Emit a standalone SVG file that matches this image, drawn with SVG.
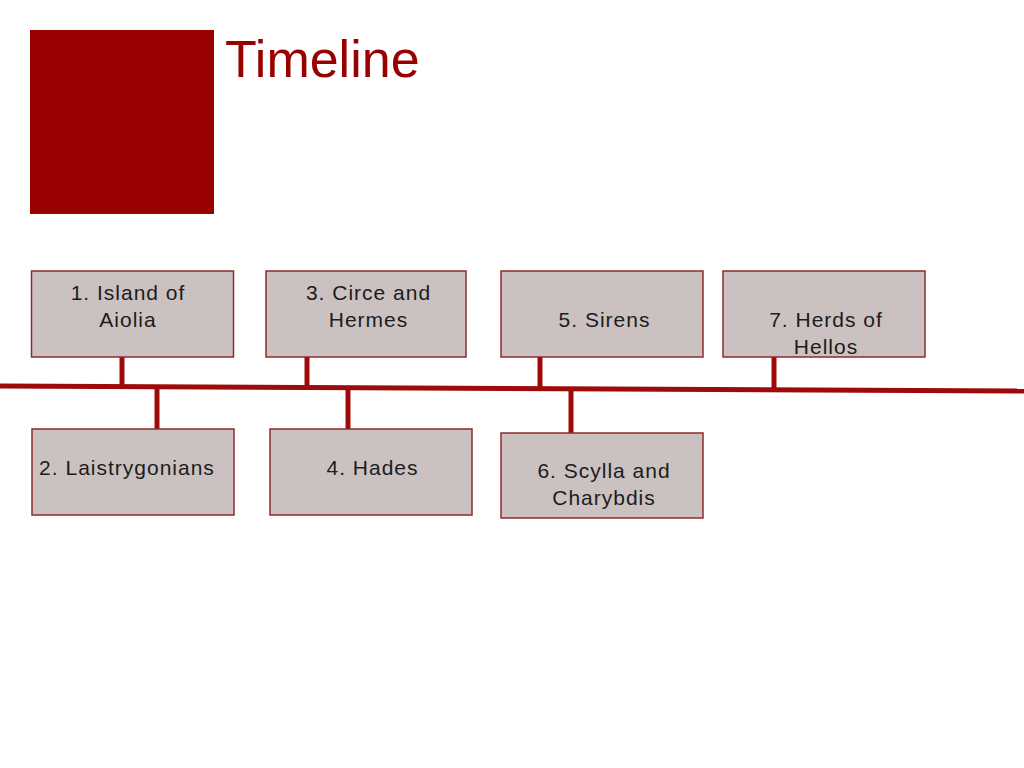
<svg xmlns="http://www.w3.org/2000/svg" width="1024" height="768" viewBox="0 0 1024 768">
<style>
.box{fill:#cbc1c1;stroke:#8e2b2b;stroke-width:1.5}
.lbl{font-family:"Liberation Sans","DejaVu Sans",sans-serif;font-size:21px;letter-spacing:1px;fill:#1c1c1c;text-anchor:middle}
.conn{stroke:#9c0a0a;stroke-width:5;fill:none}
</style>
<rect width="1024" height="768" fill="#ffffff"/>
<g id="header">
<rect x="30" y="30" width="184" height="184" fill="#990000"/>
<text x="225" y="77" font-family="Liberation Sans, DejaVu Sans, sans-serif" font-size="52" fill="#990000">Timeline</text>
</g>
<g id="connectors">
<line class="conn" x1="0" y1="386" x2="1024" y2="391" stroke-width="6"/>
<line class="conn" x1="122" y1="357" x2="122" y2="387"/>
<line class="conn" x1="157" y1="388" x2="157" y2="429"/>
<line class="conn" x1="307" y1="357" x2="307" y2="388"/>
<line class="conn" x1="348" y1="389" x2="348" y2="429"/>
<line class="conn" x1="540" y1="357" x2="540" y2="389"/>
<line class="conn" x1="571" y1="390" x2="571" y2="433"/>
<line class="conn" x1="774" y1="357" x2="774" y2="390"/>
</g>
<g id="node1">
<rect class="box" x="31.5" y="271" width="202" height="86"/>
<text class="lbl" x="128" y="300">1. Island of</text>
<text class="lbl" x="128" y="327">Aiolia</text>
</g>
<g id="node2">
<rect class="box" x="32" y="429" width="202" height="86"/>
<text class="lbl" x="127" y="475">2. Laistrygonians</text>
</g>
<g id="node3">
<rect class="box" x="266" y="271" width="200" height="86"/>
<text class="lbl" x="368.5" y="300">3. Circe and</text>
<text class="lbl" x="368.5" y="327">Hermes</text>
</g>
<g id="node4">
<rect class="box" x="270" y="429" width="202" height="86"/>
<text class="lbl" x="372.5" y="475">4. Hades</text>
</g>
<g id="node5">
<rect class="box" x="501" y="271" width="202" height="86"/>
<text class="lbl" x="604.5" y="327">5. Sirens</text>
</g>
<g id="node6">
<rect class="box" x="501" y="433" width="202" height="85"/>
<text class="lbl" x="604" y="478">6. Scylla and</text>
<text class="lbl" x="604" y="505">Charybdis</text>
</g>
<g id="node7">
<rect class="box" x="723" y="271" width="202" height="86"/>
<text class="lbl" x="826" y="327">7. Herds of</text>
<text class="lbl" x="826" y="354">Hellos</text>
</g>
</svg>
